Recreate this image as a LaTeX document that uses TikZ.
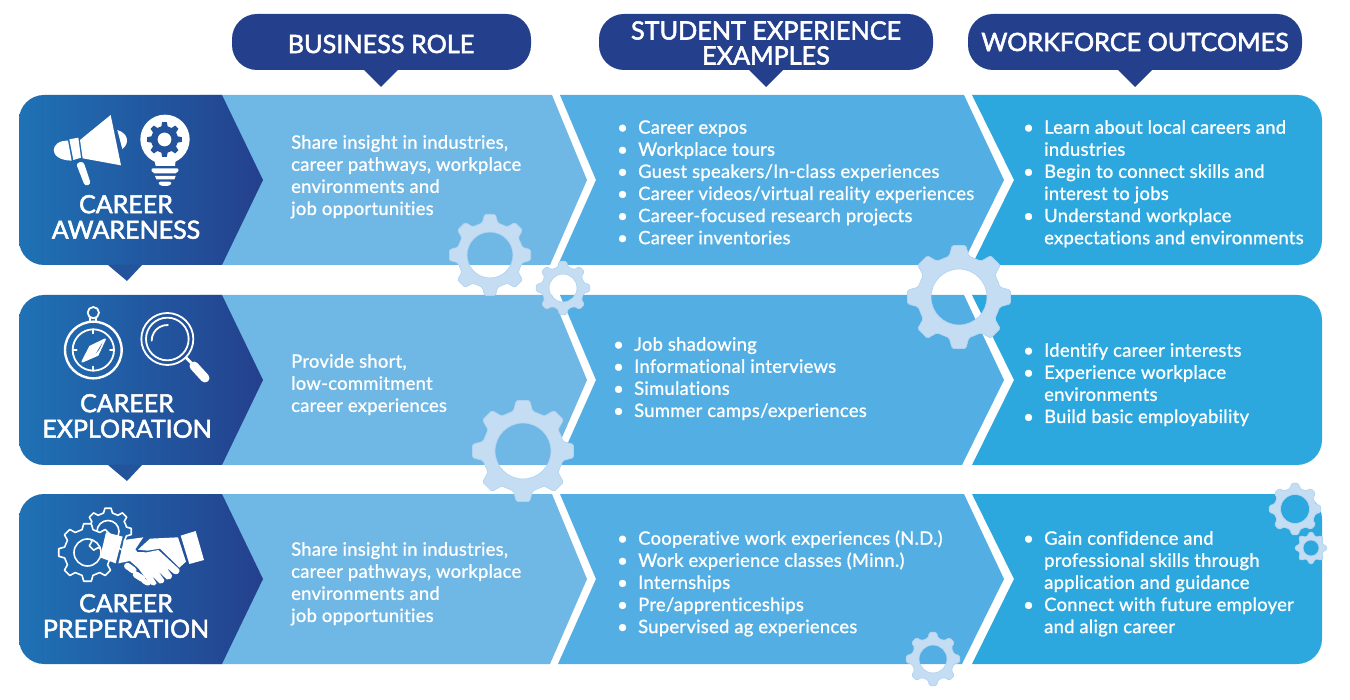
\documentclass[tikz,border=0pt]{standalone}
\usepackage{fontspec}
\setmainfont[LetterSpace=1.5,Ligatures=NoCommon]{Lato}
\newfontfamily\headf{Lato}
\newcommand{\heavy}[1]{\special{pdf:code 2 Tr 0.55 w 1 1 1 RG}#1\special{pdf:code 0 Tr}}
\newcommand{\lite}[1]{\special{pdf:code 2 Tr 0.2 w 1 1 1 RG}#1\special{pdf:code 0 Tr}}
\definecolor{navy}{HTML}{24408D}
\definecolor{gradL}{HTML}{1F72B5}
\definecolor{gradM}{HTML}{22539B}
\definecolor{gradA}{HTML}{2066AC}
\definecolor{lightp}{HTML}{6FB7E4}
\definecolor{midp}{HTML}{53AEE3}
\definecolor{outp}{HTML}{2DA8DE}
\definecolor{cogc}{HTML}{C5DDF3}
\definecolor{cogl}{HTML}{B3D4F0}
\tikzset{
  pic px/.style={x=1pt,y=-1pt},
  hdrbox/.style={fill=navy},
  bodytxt/.style={text=white,anchor=north west,inner sep=0pt,align=left,yshift=-2pt,font=\fontsize{18.4}{22.1}\selectfont},
  hdrtxt/.style={text=white,inner sep=0pt,align=center,font=\fontsize{25.2}{25}\headf},
  titletxt/.style={text=white,inner sep=0pt,align=center,font=\fontsize{25}{25.5}\headf},
  iconline/.style={white,line width=1.8pt,line join=round,line cap=round},
  zoomed/.style={x=0.33333pt,y=-0.33333pt},
  thincog/.style={draw=cogl,line width=0.7pt,rounded corners=1.5pt},
  iconcog/.style={draw=white,line width=1.6pt}
}
\newcommand{\cog}[7]{% cx cy R root hole fill style
  \path[fill=#6,#7,even odd rule,line join=round]
    ({#1+#4*cos(-22.5)},{#2+#4*sin(-22.5)})
    \foreach \a in {0,45,...,315}{
      -- ({#1+#4*cos(\a-13.5)},{#2+#4*sin(\a-13.5)})
      -- ({#1+#3*cos(\a-7.5)},{#2+#3*sin(\a-7.5)})
      -- ({#1+#3*cos(\a+7.5)},{#2+#3*sin(\a+7.5)})
      -- ({#1+#4*cos(\a+13.5)},{#2+#4*sin(\a+13.5)})
    } -- cycle
    [sharp corners] (#1+#5,#2) arc[start angle=0,end angle=360,radius=#5];}
\newcommand{\rowpanels}[1]{% top y
  \begin{scope}[yshift={-#1 pt}]
    \fill[outp] (972,0) -- (1014,85) -- (972,170) -- (1200,170) [rounded corners=25pt] -- (1322,170) -- (1322,0) -- (1200,0) [sharp corners] -- cycle;
    \fill[midp] (560,0) -- (964,0) -- (1004,85) -- (962,170) -- (558,170) -- (596,85) -- cycle;
    \fill[lightp] (200,0) -- (552,0) -- (587,85) -- (550,170) -- (200,170) -- cycle;
    \shade[left color=gradL,right color=navy] (120,0) -- (222,0) -- (263,85) -- (222,170) -- (120,170) [rounded corners=25pt] -- (19,170) -- (19,0) -- cycle;
  \end{scope}}
\begin{document}
\begin{tikzpicture}[pic px]
\useasboundingbox (0,0) rectangle (1350,700);
\fill[white] (0,0) rectangle (1350,700);
% header boxes
\fill[hdrbox,rounded corners=25pt] (232,14) rectangle (531,70);
\fill[hdrbox] (364,70) -- (381,87) -- (398,70) -- cycle;
\fill[hdrbox,rounded corners=25pt] (599,14) rectangle (933,70);
\fill[hdrbox] (749,70) -- (766,87) -- (783,70) -- cycle;
\fill[hdrbox,rounded corners=25pt] (968,14) rectangle (1302,70);
\fill[hdrbox] (1118,70) -- (1135,87) -- (1152,70) -- cycle;
% row panels
\rowpanels{95}
\rowpanels{295}
\rowpanels{494}
% notches
\fill[gradM] (108,265) -- (127,281) -- (142,265) -- cycle;
\fill[gradM] (108,465) -- (127,481) -- (142,465) -- cycle;
% decorative gears
\cog{490}{255}{41}{33}{23}{cogc}{thincog}
\cog{563}{288}{27}{21.5}{14}{cogc}{thincog}
\cog{959}{297}{52}{42}{28}{cogc}{thincog}
\cog{523}{451}{51}{41}{28}{cogc}{thincog}
\cog{1295}{509}{26}{21}{14.5}{cogc}{thincog}
\cog{1311}{548}{16}{12.5}{8}{cogc}{thincog}
\cog{933}{659}{27}{21.5}{14}{cogc}{thincog}
% megaphone
\begin{scope}[shift={(0,80)},zoomed]
  \fill[white] (240,180) -- (332,105) -- (363,256) -- (248,235) -- cycle;
  \fill[white] (352,150) .. controls (385,160) and (390,190) .. (367,207) -- cycle;
  \fill[white] (204,182) .. controls (150,180) and (140,240) .. (215,242) -- cycle;
  \fill[white] (208,178) -- (235,173) -- (243,233) -- (220,240) -- cycle;
  \fill[white,rounded corners=3pt] (228,250) -- (250,244) -- (273,312) -- (255,319) -- cycle;
  % bulb
  \fill[white] (495,178) circle[radius=74];
  \fill[white] (437,222) -- (553,222) -- (527,240) -- (525,258) -- (467,258) -- (463,240) -- cycle;
  \fill[white,rounded corners=2pt] (453,265) -- (537,265) -- (533,280) -- (457,280) -- cycle;
  \fill[white] (465,288) -- (527,288) -- (523,298) -- (469,298) -- cycle;
  \fill[white,rounded corners=3pt] (473,305) -- (517,305) -- (510,318) -- (480,318) -- cycle;
\end{scope}
\cog{164.5}{139.5}{17.5}{13.5}{7}{gradM}{draw=none}
% compass
\begin{scope}[shift={(55,300)},zoomed]
  \draw[iconline,line width=2.4pt] (115,150) circle[radius=85];
  \draw[iconline] (115,150) circle[radius=62];
  \draw[iconline] (115,38) circle[radius=17];
  \draw[iconline] (106,55) -- (106,65) (124,55) -- (124,65);
  \draw[iconline] (115,88) -- (115,100) (115,200) -- (115,212) (53,150) -- (65,150) (165,150) -- (177,150);
  \draw[iconline,fill=white] (150,118) -- (128,165) -- (82,185) -- (105,140) -- cycle;
  \fill[gradA] (143,127) -- (122,161) -- (133,148) -- cycle;
  % magnifier
  \draw[iconline] (337,117) circle[radius=78];
  \draw[iconline] (337,117) circle[radius=64];
  \draw[iconline] (290,122) arc[start angle=180,end angle=272,radius=47];
  \draw[iconline,line width=2.8pt] (394,174) -- (410,190);
  \draw[white,line width=9pt,line cap=round] (417,198) -- (450,234);
\end{scope}
% gears and handshake
\cog{108}{531.5}{23.5}{19}{11}{gradA}{iconcog}
\cog{87.5}{552.5}{29}{23.5}{13.5}{gradA}{iconcog}
\begin{scope}[shift={(50,500)},zoomed]
  \fill[white] (168,97) -- (218,110) -- (197,190) -- (150,172) -- cycle;
  \fill[white] (392,107) -- (437,93) -- (462,180) -- (418,192) -- cycle;
  \fill[white] (222,120) -- (280,112) -- (256,148) -- (262,156) -- (290,157) -- (325,150) -- (388,208) .. controls (392,222) and (376,226) .. (370,220) -- (350,203) -- (366,226) .. controls (366,238) and (356,240) .. (350,238) -- (325,214) -- (343,240) .. controls (342,250) and (334,252) .. (328,250) -- (306,228) -- (320,250) .. controls (316,258) and (310,258) .. (304,254) -- (285,232) -- (265,205) -- (240,183) -- (205,190) -- cycle;
  \fill[white] (300,116) -- (384,112) -- (408,185) -- (388,203) -- (330,146) -- (292,152) -- (264,149) -- cycle;
  \draw[white,line width=6.5pt,line cap=round] (232,198) -- (250,211);
  \draw[white,line width=6.5pt,line cap=round] (258,224) -- (277,236);
  \draw[white,line width=5pt,line cap=round] (282,243) -- (292,249);
  \fill[white] (296,250) circle[radius=6];
\end{scope}
% header labels
\node[hdrtxt] (h1) at (381,44) {\heavy{BUSINESS ROLE}};
\node[hdrtxt] (h2) at (766,43) {\heavy{STUDENT EXPERIENCE\\EXAMPLES}};
\node[hdrtxt] (h3) at (1135,42) {\heavy{WORKFORCE OUTCOMES}};
% row titles
\node[titletxt] (t1) at (126,217) {\heavy{CAREER\\AWARENESS}};
\node[titletxt] (t2) at (127,416) {\heavy{CAREER\\EXPLORATION}};
\node[titletxt] (t3) at (126,616) {\heavy{CAREER\\PREPERATION}};
% texts
\newcommand{\bl}[1]{\strut\makebox[16pt][l]{\hspace*{-5pt}•}#1}
\newcommand{\cl}[1]{\strut\hspace*{16pt}#1}
\node[bodytxt] (b1) at (291,131) {\lite{\strut Share insight in industries,\\career pathways, workplace\\environments and\\job opportunities}};
\node[bodytxt] (b2) at (291,350) {\lite{\strut Provide short,\\low-commitment\\career experiences}};
\node[bodytxt] (b3) at (291,538) {\lite{\strut Share insight in industries,\\career pathways, workplace\\environments and\\job opportunities}};
\node[bodytxt] (s1) at (622,116) {\lite{\bl{Career expos}\\\bl{Workplace tours}\\\bl{Guest speakers/In-class experiences}\\\bl{Career videos/virtual reality experiences}\\\bl{Career-focused research projects}\\\bl{Career inventories}}};
\node[bodytxt] (s2) at (618,333) {\lite{\bl{Job shadowing}\\\bl{Informational interviews}\\\bl{Simulations}\\\bl{Summer camps/experiences}}};
\node[bodytxt] (s3) at (622,527) {\lite{\bl{Cooperative work experiences (N.D.)}\\\bl{Work experience classes (Minn.)}\\\bl{Internships}\\\bl{Pre/apprenticeships}\\\bl{Supervised ag experiences}}};
\node[bodytxt] (w1) at (1028,116) {\lite{\bl{Learn about local careers and}\\\cl{industries}\\\bl{Begin to connect skills and}\\\cl{interest to jobs}\\\bl{Understand workplace}\\\cl{expectations and environments}}};
\node[bodytxt] (w2) at (1028,339) {\lite{\bl{Identify career interests}\\\bl{Experience workplace}\\\cl{environments}\\\bl{Build basic employability}}};
\node[bodytxt] (w3) at (1028,527) {\lite{\bl{Gain confidence and}\\\cl{professional skills through}\\\cl{application and guidance}\\\bl{Connect with future employer}\\\cl{and align career}}};
\end{tikzpicture}
\end{document}
